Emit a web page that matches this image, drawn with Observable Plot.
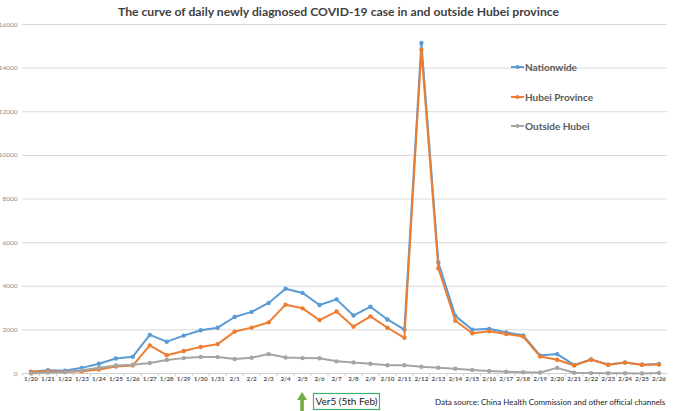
<!DOCTYPE html>
<html><head><meta charset="utf-8">
<script src="https://cdn.jsdelivr.net/npm/d3@7"></script>
<script src="https://cdn.jsdelivr.net/npm/@observablehq/plot@0.6"></script>
<style>body{margin:0;background:#fff;} svg{display:block;}</style>
</head><body><div id="chart"></div>
<script>
const dates = ["1/20","1/21","1/22","1/23","1/24","1/25","1/26","1/27","1/28","1/29","1/30","1/31","2/1","2/2","2/3","2/4","2/5","2/6","2/7","2/8","2/9","2/10","2/11","2/12","2/13","2/14","2/15","2/16","2/17","2/18","2/19","2/20","2/21","2/22","2/23","2/24","2/25","2/26"];
const nationwide = [77,149,131,259,444,688,769,1771,1459,1737,1981,2099,2589,2825,3235,3887,3694,3143,3399,2656,3062,2478,2015,15152,5090,2641,2009,2048,1886,1749,820,889,397,648,409,508,406,433];
const hubei = [72,105,69,105,180,323,371,1291,840,1032,1220,1347,1921,2103,2345,3156,2987,2447,2841,2147,2618,2097,1638,14840,4823,2420,1843,1933,1807,1693,775,631,366,630,398,499,401,409];
const outside = [5,44,62,154,264,365,398,480,619,705,761,752,668,722,890,731,707,696,558,509,444,381,377,312,267,221,166,115,79,56,45,258,31,18,11,9,5,24];
const seriesNames = ["Nationwide","Hubei Province","Outside Hubei"];
const seriesColors = ["#5B9BD5","#ED7D31","#A5A5A5"];
const yTicks = [0,2000,4000,6000,8000,10000,12000,14000,16000];
const titleText = "The curve of daily newly diagnosed COVID-19 case in and outside Hubei province";
const noteText = "Ver5 (5th Feb)";
const noteDate = "2/5";
const sourceText = "Data source: China Health Commission and other official channels";

const allSeries = [nationwide, hubei, outside];
const rows = [];
allSeries.forEach((vals, s) => vals.forEach((v, i) => rows.push({date: dates[i], value: v, series: seriesNames[s]})));

const marks = [
  Plot.gridY(yTicks, {stroke: "#d9d9d9", strokeOpacity: 1}),
  Plot.ruleY([0], {stroke: "#d0d0d0"}),
  Plot.ruleX(dates, {x: d => d, y1: 0, y2: -150, dx: -8.5, stroke: "#d0d0d0"}),
  Plot.axisY(yTicks, {tickSize: 0, tickPadding: 5, fontSize: 6.5, fill: "#8c8c8c", label: null, tickFormat: d => String(d)}),
  Plot.axisX(dates, {tickSize: 0, tickPadding: 3.5, fontSize: 6.3, fill: "#5a5a5a", fontWeight: "bold", label: null})
];
seriesNames.forEach((name, s) => {
  const d = rows.filter(r => r.series === name);
  marks.push(Plot.line(d, {x: "date", y: "value", stroke: seriesColors[s], strokeWidth: 2}));
  marks.push(Plot.dot(d, {x: "date", y: "value", fill: seriesColors[s], r: 2.2}));
});

const chart = Plot.plot({
  width: 677, height: 411,
  marginTop: 24, marginBottom: 38, marginLeft: 22, marginRight: 10,
  style: {fontFamily: "Lato, sans-serif", background: "white"},
  x: {type: "point", domain: dates, padding: 0.5},
  y: {domain: [0, 16000]},
  marks
});
document.getElementById("chart").appendChild(chart);

const svg = d3.select(chart);
svg.append("text").attr("x", 338.5).attr("y", 15.5).attr("text-anchor", "middle")
  .attr("font-size", 12.2).attr("font-weight", "bold").attr("fill", "#404040")
  .attr("font-family", "Lato, sans-serif").text(titleText);

// legend
const legY = [67, 97, 126];
seriesNames.forEach((name, s) => {
  const g = svg.append("g");
  g.append("line").attr("x1", 511).attr("x2", 524).attr("y1", legY[s]).attr("y2", legY[s])
    .attr("stroke", seriesColors[s]).attr("stroke-width", 2);
  g.append("circle").attr("cx", 517.5).attr("cy", legY[s]).attr("r", 2).attr("fill", seriesColors[s]);
  g.append("text").attr("x", 525).attr("y", legY[s]).attr("dy", "0.35em").attr("text-anchor", "start")
    .attr("font-size", 10).attr("font-weight", "bold").attr("fill", "#595959")
    .attr("font-family", "Lato, sans-serif").text(name);
});

// annotation
const xs = chart.scale("x");
const ax = xs.apply(noteDate);
svg.append("path")
  .attr("d", `M${ax-1.8},411 L${ax-1.8},400 L${ax-5},400 L${ax},392 L${ax+5},400 L${ax+1.8},400 L${ax+1.8},411 Z`)
  .attr("fill", "#70AD47");
svg.append("rect").attr("x", 313.5).attr("y", 393.5).attr("width", 66).attr("height", 16)
  .attr("fill", "white").attr("stroke", "#3cb371").attr("stroke-width", 1.2);
svg.append("text").attr("x", 346.5).attr("y", 401.5).attr("dy", "0.35em").attr("text-anchor", "middle")
  .attr("font-size", 10).attr("fill", "#222").attr("font-family", "Lato, sans-serif").text(noteText);
svg.append("text").attr("x", 435).attr("y", 402).attr("dy", "0.35em").attr("text-anchor", "start")
  .attr("font-size", 8).attr("fill", "#222").attr("font-family", "Lato, sans-serif").text(sourceText);
</script></body></html>
